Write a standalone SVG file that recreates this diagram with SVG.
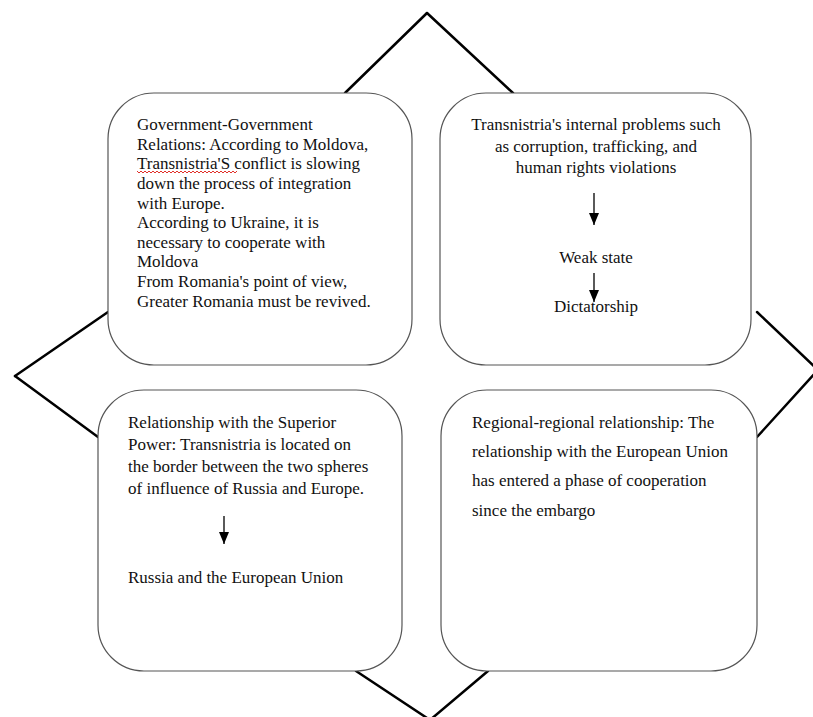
<svg xmlns="http://www.w3.org/2000/svg" width="813" height="717" viewBox="0 0 813 717">
  <style>
    .box { fill: #ffffff; stroke: #555555; stroke-width: 1.2; }
    .edge { stroke: #000000; stroke-width: 2.5; fill: none; stroke-linecap: round; }
    .arrow { stroke: #000000; stroke-width: 1.3; fill: none; }
    text { font-family: "Liberation Serif", "Times New Roman", serif; font-size: 17px; fill: #111111; }
    .mid { text-anchor: middle; }
    .squiggle { stroke: #e0302a; stroke-width: 1; fill: none; }
  </style>
  <defs>
    <marker id="head" markerWidth="12" markerHeight="10" refX="12" refY="5" orient="auto" markerUnits="userSpaceOnUse" viewBox="0 0 12 10">
      <path d="M0,0 L12,5 L0,10 Z" fill="#000000"/>
    </marker>
  </defs>
  <rect width="813" height="717" fill="#ffffff"/>

  <g id="connectors">
    <line class="edge" x1="345" y1="93" x2="427" y2="13"/>
    <line class="edge" x1="427" y1="13" x2="513" y2="93"/>
    <line class="edge" x1="108" y1="312" x2="15" y2="376"/>
    <line class="edge" x1="15" y1="376" x2="98" y2="437"/>
    <line class="edge" x1="757" y1="312" x2="816" y2="368"/>
    <line class="edge" x1="816" y1="372" x2="757" y2="437"/>
    <line class="edge" x1="356" y1="671" x2="430" y2="720"/>
    <line class="edge" x1="430" y1="720" x2="488" y2="671"/>
  </g>

  <g id="node-government">
    <rect class="box" x="108" y="93" width="304" height="272" rx="46" ry="46"/>
    <text x="137" y="130">Government-Government</text>
    <text x="137" y="149.6">Relations: According to Moldova,</text>
    <text x="137" y="169.3">Transnistria'S conflict is slowing</text>
    <path class="squiggle" d="M137,171 l2,2 l2,-2 l2,2 l2,-2 l2,2 l2,-2 l2,2 l2,-2 l2,2 l2,-2 l2,2 l2,-2 l2,2 l2,-2 l2,2 l2,-2 l2,2 l2,-2 l2,2 l2,-2 l2,2 l2,-2 l2,2 l2,-2 l2,2 l2,-2 l2,2 l2,-2 l2,2 l2,-2 l2,2 l2,-2 l2,2 l2,-2 l2,2 l2,-2 l2,2 l2,-2 l2,2 l2,-2 l2,2 l2,-2 l2,2 l2,-2 l2,2 l2,-2 l2,2 l2,-2 l2,2 l2,-2"/>
    <text x="137" y="188.9">down the process of integration</text>
    <text x="137" y="208.5">with Europe.</text>
    <text x="137" y="228.2">According to Ukraine, it is</text>
    <text x="137" y="247.8">necessary to cooperate with</text>
    <text x="137" y="267.4">Moldova</text>
    <text x="137" y="287.1">From Romania's point of view,</text>
    <text x="137" y="306.7">Greater Romania must be revived.</text>
  </g>

  <g id="node-internal">
    <rect class="box" x="440" y="93" width="311" height="272" rx="46" ry="46"/>
    <text class="mid" x="596" y="130">Transnistria's internal problems such</text>
    <text class="mid" x="596" y="151.5">as corruption, trafficking, and</text>
    <text class="mid" x="596" y="173">human rights violations</text>
    <line class="arrow" x1="594" y1="193" x2="594" y2="225" marker-end="url(#head)"/>
    <text class="mid" x="596" y="263">Weak state</text>
    <line class="arrow" x1="594" y1="273" x2="594" y2="302" marker-end="url(#head)"/>
    <text class="mid" x="596" y="312">Dictatorship</text>
  </g>

  <g id="node-superior">
    <rect class="box" x="98" y="390" width="304" height="281" rx="46" ry="46"/>
    <text x="128" y="428">Relationship with the Superior</text>
    <text x="128" y="450">Power: Transnistria is located on</text>
    <text x="128" y="472">the border between the two spheres</text>
    <text x="128" y="494">of influence of Russia and Europe.</text>
    <line class="arrow" x1="224" y1="516" x2="224" y2="544" marker-end="url(#head)"/>
    <text x="128" y="583">Russia and the European Union</text>
  </g>

  <g id="node-regional">
    <rect class="box" x="441" y="390" width="316" height="281" rx="46" ry="46"/>
    <text x="472" y="428">Regional-regional relationship: The</text>
    <text x="472" y="457">relationship with the European Union</text>
    <text x="472" y="486">has entered a phase of cooperation</text>
    <text x="472" y="516">since the embargo</text>
  </g>
</svg>
